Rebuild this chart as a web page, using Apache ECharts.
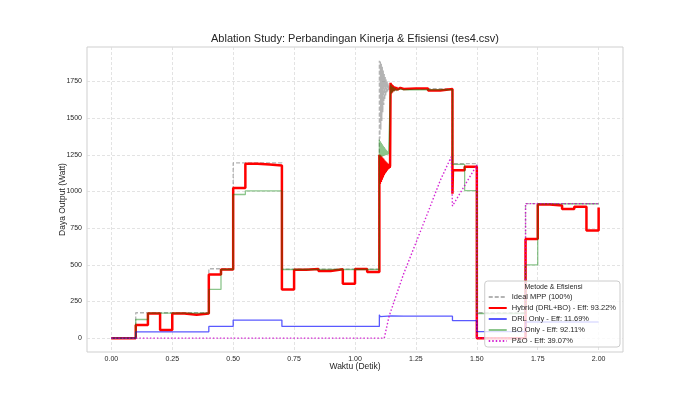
<!DOCTYPE html>
<html>
<head>
<meta charset="utf-8">
<script src="https://cdn.jsdelivr.net/npm/echarts@6/dist/echarts.min.js"></script>
<style>
html,body{margin:0;padding:0;background:#fff;}
#chart{width:693px;height:396px;}
</style>
</head>
<body>
<div id="chart"></div>
<script>
// ---- time grid (s) ----
const timeSteps = [0,0.05,0.1,0.15,0.2,0.25,0.3,0.35,0.4,0.45,0.5,0.55,0.6,0.65,0.7,0.75,0.8,0.85,0.9,0.95,1.0,1.05,1.1,1.15,1.2,1.25,1.3,1.35,1.4,1.45,1.5,1.55,1.6,1.65,1.7,1.75,1.8,1.85,1.9,1.95,2.0];

// ---- power (W), held constant from each time step to the next ----
const idealMPP = [0,0,173,173,173,173,173,173,473,473,
  1195,1195,1195,1195,470,470,470,470,470,470,
  470,470,1700,1700,1700,1700,1700,1700,1190,1190,
  173,173,173,173,917,917,917,917,917,917,917];
const hybrid = [0,0,90,168,55,168,160,168,434,468,
  1024,1188,1183,1176,332,466,472,457,470,370,
  472,450,1170,1702,1702,1702,1688,1698,1145,1168,
  0,0,0,0,675,911,904,881,895,734,890];
const drlOnly = [0,0,43,43,43,43,43,43,80,80,
  123,123,123,123,80,80,80,80,80,80,
  80,80,150,150,150,150,150,150,120,120,
  45,45,45,45,110,110,110,110,110,110,110];
const boOnly = [0,0,127,170,170,170,170,170,332,468,
  979,1004,1004,1004,468,468,468,468,468,468,
  468,468,1260,1693,1693,1693,1693,1693,1185,1006,
  168,168,168,168,500,915,915,915,915,915,915];

// ---- transients (override the step values at equal times) ----
const idealEventT = [1.100,1.102,1.104,1.106,1.108,1.110,1.112,1.114,1.116,1.118,1.120,1.122,1.124,1.126,1.128,1.130,1.132,1.134,1.136,1.138,1.140,1.142,1.144,1.146,1.148];
const idealEventV = [1890,1360,1885,1420,1870,1480,1850,1540,1825,1590,1800,1625,1780,1650,1762,1670,1748,1682,1735,1690,1722,1694,1712,1697,1705];

const hybridEventT = [1.100,1.102,1.104,1.106,1.108,1.110,1.112,1.114,1.116,1.118,1.120,1.122,1.124,1.126,1.128,1.130,1.132,1.134,1.136,1.138,1.140,1.142,1.144,
  1.146,1.148,1.150,1.152,1.155,1.158,1.161,1.165,1.169,1.174,1.180,1.186,
  1.400,1.402];
const hybridEventV = [1250,1050,1245,1065,1238,1080,1230,1095,1222,1110,1212,1122,1205,1132,1198,1142,1192,1150,1186,1156,1181,1162,1176,
  1740,1668,1730,1676,1722,1684,1715,1690,1710,1694,1706,1698,
  985,1145];

const drlEventT = [1.100,1.103,1.106];
const drlEventV = [160,146,152];

const boEventT = [1.100,1.102,1.104,1.106,1.108,1.110,1.112,1.114,1.116,1.118,1.120,1.122,1.124,1.126,1.128,1.130,1.132,1.134,1.136,1.138,1.140,1.142,1.144,
  1.146,1.148,1.150,1.153,1.156,1.160,1.164,1.169,1.175,1.182,1.190];
const boEventV = [1352,1232,1342,1235,1332,1238,1322,1240,1312,1242,1302,1245,1292,1247,1284,1249,1277,1251,1270,1253,1265,1255,1260,
  1728,1668,1720,1675,1712,1682,1705,1687,1700,1690,1693];

// ---- P&O (drawn point to point) ----
const poTime  = [0,1.12,1.14,1.2,1.25,1.3,1.35,1.395,1.4,1.45,1.5,1.5,1.7,1.7,2.0];
const poValue = [0,0,150,440,650,860,1075,1236,900,1040,1180,0,0,917,917];

// ---- ticks ----
const xTicks = [0,0.25,0.5,0.75,1.0,1.25,1.5,1.75,2.0];
const yTicks = [0,250,500,750,1000,1250,1500,1750];

const seriesNames = ['Ideal MPP (100%)','Hybrid (DRL+BO) - Eff: 93.22%','DRL Only - Eff: 11.69%','BO Only - Eff: 92.11%','P&O - Eff: 39.07%'];

function merge(steps, evT, evV){
  const ev = evT.map((t,i)=>[t, evV[i]]);
  const st = timeSteps.map((t,i)=>[t, steps[i]])
    .filter(p => !evT.some(t => Math.abs(t - p[0]) < 1e-9));
  return st.concat(ev).sort((a,b)=>a[0]-b[0]);
}

const FONT = 'Liberation Sans, Arial, sans-serif';
const TXT = '#262626';

const chart = echarts.init(document.getElementById('chart'), null, {renderer:'canvas'});
const common = {type:'line', showSymbol:false, symbol:'none', animation:false, silent:true};

chart.setOption({
  backgroundColor:'#ffffff',
  animation:false,
  textStyle:{fontFamily:FONT},
  title:{
    text:'Ablation Study: Perbandingan Kinerja & Efisiensi (tes4.csv)',
    left:355, top:33, textAlign:'center', padding:0,
    textStyle:{fontSize:11, fontWeight:'normal', color:TXT, fontFamily:FONT}
  },
  grid:{left:87, right:70, top:47, bottom:44, show:true, borderColor:'#cfcfcf', borderWidth:1, backgroundColor:'#fff'},
  xAxis:{
    type:'value', min:-0.1, max:2.1,
    axisLine:{show:false},
    axisTick:{show:false, customValues:xTicks},
    axisLabel:{customValues:xTicks, formatter:v=>v.toFixed(2), fontSize:7, color:TXT, margin:4, fontFamily:FONT},
    splitLine:{show:true, lineStyle:{color:'#dcdcdc', type:[3,2], width:0.8}},
    name:'Waktu (Detik)', nameLocation:'middle', nameGap:10, nameMoveOverlap:false,
    nameTextStyle:{fontSize:8.5, color:TXT, fontFamily:FONT}
  },
  yAxis:{
    type:'value', min:-94.5, max:1984.5,
    axisLine:{show:false},
    axisTick:{show:false, customValues:yTicks},
    axisLabel:{customValues:yTicks, formatter:v=>String(v), fontSize:7, color:TXT, margin:5, fontFamily:FONT},
    splitLine:{show:true, lineStyle:{color:'#dcdcdc', type:[3,2], width:0.8}},
    name:'Daya Output (Watt)', nameLocation:'middle', nameGap:20, nameMoveOverlap:false,
    nameTextStyle:{fontSize:8.5, color:TXT, fontFamily:FONT}
  },
  legend:{
    data:seriesNames, orient:'vertical', right:73, bottom:49, align:'left',
    itemWidth:18, itemHeight:8, itemGap:3,
    padding:[12,4,2,3],
    backgroundColor:'rgba(255,255,255,0.8)', borderColor:'#cccccc', borderWidth:1, borderRadius:3,
    itemStyle:{opacity:0},
    textStyle:{fontSize:7.5, color:TXT, fontFamily:FONT},
    selectedMode:false
  },
  graphic:[{
    type:'text', z:100,
    style:{text:'Metode & Efisiensi', x:553.5, y:287, align:'center', verticalAlign:'middle', fontSize:7, fill:TXT, fontFamily:FONT}
  }],
  series:[
    Object.assign({}, common, {name:seriesNames[0], step:'end', data:merge(idealMPP, idealEventT, idealEventV),
      lineStyle:{color:'rgba(128,128,128,0.6)', width:1.3, type:[4,2]}, itemStyle:{color:'rgba(128,128,128,0.6)'}}),
    Object.assign({}, common, {name:seriesNames[1], step:'end', data:merge(hybrid, hybridEventT, hybridEventV),
      lineStyle:{color:'#ff0000', width:2.5}, itemStyle:{color:'#ff0000'}}),
    Object.assign({}, common, {name:seriesNames[2], step:'end', data:merge(drlOnly, drlEventT, drlEventV),
      lineStyle:{color:'rgba(0,0,255,0.65)', width:1.3}, itemStyle:{color:'rgba(0,0,255,0.65)'}}),
    Object.assign({}, common, {name:seriesNames[3], step:'end', data:merge(boOnly, boEventT, boEventV),
      lineStyle:{color:'rgba(0,128,0,0.45)', width:1.3}, itemStyle:{color:'rgba(0,128,0,0.45)'}}),
    Object.assign({}, common, {name:seriesNames[4], data:poTime.map((t,i)=>[t, poValue[i]]),
      lineStyle:{color:'rgba(204,0,204,0.85)', width:1.4, type:[1.5,2]}, itemStyle:{color:'rgba(204,0,204,0.85)'}})
  ]
});
</script>
</body>
</html>
